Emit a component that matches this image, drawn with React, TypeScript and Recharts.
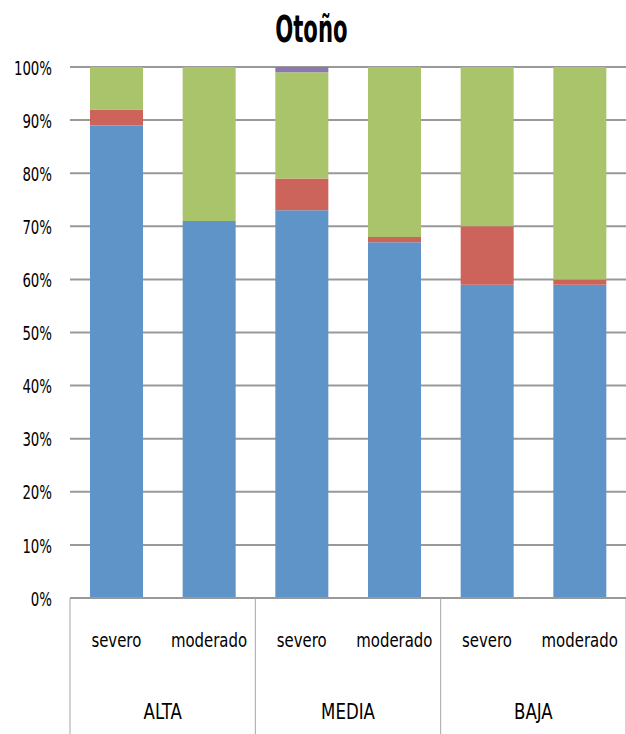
import React from "react";
import { BarChart, Bar, XAxis, YAxis, CartesianGrid } from "recharts";

const subLabels = ["severo", "moderado", "severo", "moderado", "severo", "moderado"];
const groupLabels = ["ALTA", "ALTA", "MEDIA", "MEDIA", "BAJA", "BAJA"];

const blueValues = [89, 71, 73, 67, 59, 59];
const redValues = [3, 0, 6, 1, 11, 1];
const greenValues = [8, 29, 20, 32, 30, 40];
const purpleValues = [0, 0, 1, 0, 0, 0];

const yTicks = [0, 10, 20, 30, 40, 50, 60, 70, 80, 90, 100];

const FONT = "'DejaVu Sans Condensed', 'DejaVu Sans', sans-serif";

const data = subLabels.map((sub, i) => ({
  sub,
  group: groupLabels[i],
  blue: blueValues[i],
  red: redValues[i],
  green: greenValues[i],
  purple: purpleValues[i],
}));

// narrow, tall text like the original
const NarrowText = ({ x, y, size, sx, anchor, children }: any) => (
  <text
    transform={`translate(${x},${y}) scale(${sx},1)`}
    x={0}
    y={0}
    textAnchor={anchor}
    dominantBaseline="central"
    fontSize={size}
    fontFamily={FONT}
    fill="#000"
  >
    {children}
  </text>
);

const PercentTick = (props: any) => {
  const { x, y, payload } = props;
  return (
    <NarrowText x={x} y={y + 1} size={19} sx={0.78} anchor="end">
      {`${payload.value}%`}
    </NarrowText>
  );
};

// tick that draws the sub label, the group label and the separators
const CategoryTick = (props: any) => {
  const { x, y, payload, index } = props;
  const half = payload?.offset ?? 46;
  const showGroup = index % 2 === 0;
  const last = index === subLabels.length - 1;
  return (
    <g>
      <NarrowText x={x} y={y + 42} size={20} sx={0.83} anchor="middle">
        {payload.value}
      </NarrowText>
      {showGroup && (
        <>
          <line x1={x - half} x2={x - half} y1={y} y2={y + 140} stroke="#A6A6A6" strokeWidth={1} />
          <NarrowText x={x + half} y={y + 113} size={22} sx={0.84} anchor="middle">
            {groupLabels[index]}
          </NarrowText>
        </>
      )}
      {last && <line x1={x + half} x2={x + half} y1={y} y2={y + 140} stroke="#A6A6A6" strokeWidth={1} />}
    </g>
  );
};

export default function App() {
  return (
    <div style={{ position: "absolute", left: 0, top: 0, width: 626, height: 734, background: "#fff" }}>
      <div
        style={{
          position: "absolute",
          left: 0,
          top: 10,
          width: 623,
          textAlign: "center",
          fontFamily: FONT,
          fontWeight: "bold",
          fontSize: 38,
          lineHeight: "38px",
          color: "#000",
        }}
      >
        <span style={{ display: "inline-block", transform: "scale(0.62,1)" }}>Otoño</span>
      </div>
      <BarChart
        width={626}
        height={734}
        data={data}
        margin={{ top: 67, right: 0, left: 0, bottom: 0 }}
        barSize={53}
      >
        <CartesianGrid vertical={false} stroke="#999999" strokeWidth={2} />
        <YAxis
          domain={[0, 100]}
          ticks={yTicks}
          width={70}
          axisLine={false}
          tickLine={false}
          tickSize={0}
          tickMargin={18}
          tick={<PercentTick />}
        />
        <XAxis
          dataKey="sub"
          height={136}
          tickLine={false}
          tickSize={0}
          tickMargin={0}
          axisLine={{ stroke: "#999999", strokeWidth: 2 }}
          interval={0}
          tick={<CategoryTick />}
        />
        <Bar dataKey="blue" stackId="a" fill="#5E94C8" isAnimationActive={false} />
        <Bar dataKey="red" stackId="a" fill="#CD645C" isAnimationActive={false} />
        <Bar dataKey="green" stackId="a" fill="#A9C46B" isAnimationActive={false} />
        <Bar dataKey="purple" stackId="a" fill="#8D77B3" isAnimationActive={false} />
      </BarChart>
    </div>
  );
}
